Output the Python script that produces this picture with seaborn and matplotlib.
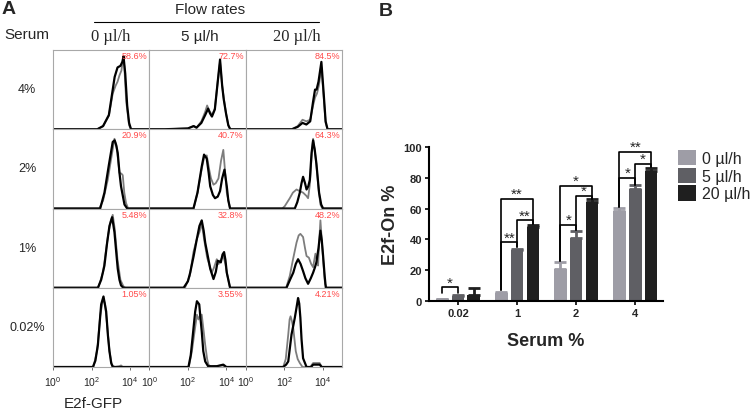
import pandas as pd
import seaborn as sns
import matplotlib.pyplot as plt

# ---- panel B data: E2f-On % per serum level and flow rate ----
SERUM = ['0.02', '1', '2', '4']
FLOWS = ['0 µl/h', '5 µl/h', '20 µl/h']
FLOW_COLORS = ['#9e9da6', '#5f5f64', '#1f1f1f']
MEAN_0 = [1.05, 5.48, 20.9, 58.6]
MEAN_5 = [3.55, 32.8, 40.7, 72.7]
MEAN_20 = [4.21, 48.2, 64.3, 84.5]
ERR_0 = [0.3, 0.5, 4.4, 1.5]
ERR_5 = [0.5, 1.2, 5.0, 2.5]
ERR_20 = [4.0, 1.2, 2.0, 2.0]

# significance brackets: (serum group, bar i, bar j, level, left foot, right foot, label)
BRACKETS = [
    (0, 0, 1, 9.0, 5.5, 5.5, '*'),
    (1, 0, 2, 66.5, 7.0, 50.0, '**'),
    (1, 0, 1, 38.0, 7.0, 35.0, '**'),
    (1, 1, 2, 52.5, 35.0, 50.0, '**'),
    (2, 0, 2, 75.0, 26.0, 66.5, '*'),
    (2, 0, 1, 49.5, 26.0, 46.0, '*'),
    (2, 1, 2, 68.5, 46.0, 66.5, '*'),
    (3, 0, 2, 97.0, 61.0, 87.0, '**'),
    (3, 0, 1, 80.0, 61.0, 75.5, '*'),
    (3, 1, 2, 89.0, 75.5, 87.0, '*'),
]

# ---- panel A data: flow histograms, (log10 GFP, relative count) ----
# serum 4%
H4_0_GRAY = [(0, 0), (2.3, 0), (2.6, 0.04), (2.9, 0.17), (3.1, 0.45), (3.25, 0.55), (3.35, 0.6), (3.45, 0.68),
             (3.55, 0.74), (3.62, 0.86), (3.7, 0.8), (3.8, 0.35), (3.95, 0.05), (4.05, 0), (5, 0)]
H4_0_BLACK = [(0, 0), (2.3, 0), (2.6, 0.04), (2.9, 0.18), (3.1, 0.5), (3.2, 0.66), (3.35, 0.78), (3.5, 0.8),
              (3.6, 0.85), (3.66, 0.92), (3.75, 0.7), (3.85, 0.3), (3.95, 0.08), (4.05, 0), (5, 0)]
H4_1_GRAY = [(0, 0), (0.8, 0), (2.0, 0.01), (2.3, 0.04), (2.45, 0.02), (2.7, 0.1), (2.9, 0.22), (3.0, 0.3),
             (3.1, 0.24), (3.25, 0.18), (3.4, 0.26), (3.55, 0.6), (3.67, 0.85), (3.78, 0.55), (3.86, 0.4),
             (3.98, 0.2), (4.1, 0.05), (4.2, 0), (5, 0)]
H4_1_BLACK = [(0, 0), (0.8, 0), (2.0, 0.01), (2.3, 0.04), (2.45, 0.02), (2.7, 0.08), (2.9, 0.18), (3.05, 0.26),
              (3.15, 0.2), (3.25, 0.16), (3.4, 0.25), (3.55, 0.6), (3.67, 0.88), (3.78, 0.55), (3.86, 0.38),
              (3.98, 0.2), (4.1, 0.05), (4.2, 0), (5, 0)]
H4_2_GRAY = [(0, 0), (2.4, 0), (2.7, 0.04), (2.95, 0.12), (3.15, 0.1), (3.35, 0.12), (3.5, 0.3), (3.6, 0.4),
             (3.7, 0.45), (3.8, 0.55), (3.93, 0.78), (4.05, 0.4), (4.15, 0.08), (4.25, 0), (5, 0)]
H4_2_BLACK = [(0, 0), (2.4, 0), (2.7, 0.03), (2.95, 0.08), (3.15, 0.06), (3.35, 0.1), (3.5, 0.35), (3.6, 0.5),
              (3.68, 0.5), (3.78, 0.6), (3.93, 0.85), (4.05, 0.45), (4.15, 0.1), (4.25, 0), (5, 0)]
# serum 2%
H2_0_GRAY = [(0, 0), (2.4, 0), (2.6, 0.1), (2.84, 0.36), (3.0, 0.6), (3.19, 0.88), (3.3, 0.78), (3.45, 0.45),
             (3.55, 0.44), (3.62, 0.42), (3.7, 0.2), (3.79, 0.07), (3.9, 0), (5, 0)]
H2_0_BLACK = [(0, 0), (2.45, 0), (2.67, 0.2), (2.9, 0.55), (3.1, 0.84), (3.2, 0.86), (3.28, 0.8), (3.36, 0.7),
              (3.45, 0.45), (3.53, 0.28), (3.71, 0.05), (3.85, 0), (5, 0)]
H2_1_GRAY = [(0, 0), (2.3, 0), (2.5, 0.2), (2.72, 0.5), (2.84, 0.64), (2.98, 0.67), (3.1, 0.5), (3.2, 0.38),
             (3.33, 0.3), (3.45, 0.32), (3.59, 0.38), (3.72, 0.6), (3.84, 0.74), (3.92, 0.5), (4.02, 0.2),
             (4.19, 0), (5, 0)]
H2_1_BLACK = [(0, 0), (2.29, 0), (2.5, 0.2), (2.72, 0.53), (2.84, 0.68), (2.98, 0.63), (3.08, 0.45), (3.16, 0.28),
              (3.3, 0.17), (3.41, 0.13), (3.55, 0.15), (3.67, 0.22), (3.78, 0.38), (3.9, 0.49), (4.02, 0.28),
              (4.1, 0.1), (4.19, 0), (5, 0)]
H2_2_GRAY = [(0, 0), (1.9, 0), (2.03, 0.03), (2.29, 0.13), (2.45, 0.2), (2.64, 0.24), (2.8, 0.22), (2.98, 0.2),
             (3.15, 0.16), (3.24, 0.13), (3.33, 0.3), (3.42, 0.65), (3.5, 0.88), (3.6, 0.7), (3.67, 0.55),
             (3.78, 0.25), (3.88, 0.05), (3.98, 0), (5, 0)]
H2_2_BLACK = [(0, 0), (2.55, 0), (2.68, 0.08), (2.81, 0.2), (2.9, 0.32), (2.98, 0.4), (3.08, 0.32), (3.16, 0.24),
              (3.25, 0.28), (3.33, 0.36), (3.42, 0.7), (3.5, 0.86), (3.58, 0.75), (3.67, 0.57), (3.81, 0.2),
              (3.92, 0.05), (4.02, 0), (5, 0)]
# serum 1%
H1_0_GRAY = [(0, 0), (2.35, 0), (2.6, 0.2), (2.85, 0.65), (3.0, 0.85), (3.1, 0.92), (3.2, 0.75), (3.35, 0.35),
             (3.5, 0.1), (3.65, 0.02), (3.75, 0), (5, 0)]
H1_0_BLACK = [(0, 0), (2.33, 0), (2.5, 0.1), (2.67, 0.28), (2.8, 0.55), (2.93, 0.78), (3.07, 0.89), (3.19, 0.7),
              (3.3, 0.4), (3.36, 0.24), (3.45, 0.1), (3.53, 0.03), (3.65, 0), (5, 0)]
H1_1_GRAY = [(0, 0), (1.85, 0), (2.1, 0.15), (2.29, 0.45), (2.47, 0.62), (2.6, 0.7), (2.72, 0.81), (2.85, 0.6),
             (3.0, 0.38), (3.24, 0.19), (3.35, 0.25), (3.5, 0.36), (3.6, 0.3), (3.7, 0.35), (3.84, 0.4),
             (3.95, 0.3), (4.02, 0.19), (4.19, 0), (5, 0)]
H1_1_BLACK = [(0, 0), (1.78, 0), (2.0, 0.08), (2.12, 0.19), (2.3, 0.4), (2.47, 0.62), (2.6, 0.78), (2.72, 0.85),
              (2.82, 0.72), (2.9, 0.57), (3.05, 0.38), (3.16, 0.24), (3.33, 0.11), (3.45, 0.2), (3.55, 0.34),
              (3.65, 0.33), (3.71, 0.32), (3.8, 0.42), (3.88, 0.45), (3.95, 0.35), (4.02, 0.19), (4.19, 0), (5, 0)]
H1_2_GRAY = [(0, 0), (2.1, 0), (2.29, 0.15), (2.45, 0.35), (2.64, 0.57), (2.75, 0.66), (2.84, 0.68), (2.98, 0.64),
             (3.08, 0.5), (3.16, 0.4), (3.28, 0.38), (3.4, 0.3), (3.5, 0.26), (3.62, 0.43), (3.7, 0.35),
             (3.76, 0.28), (3.82, 0.6), (3.88, 0.85), (3.95, 0.6), (4.02, 0.35), (4.12, 0.05), (4.2, 0), (5, 0)]
H1_2_BLACK = [(0, 0), (2.12, 0), (2.3, 0.1), (2.47, 0.19), (2.6, 0.3), (2.72, 0.36), (2.85, 0.3), (2.98, 0.21),
              (3.1, 0.12), (3.24, 0.05), (3.38, 0.12), (3.5, 0.19), (3.6, 0.26), (3.67, 0.32), (3.78, 0.5),
              (3.88, 0.72), (3.95, 0.6), (4.02, 0.4), (4.1, 0.15), (4.16, 0), (5, 0)]
# serum 0.02%
H002_0_GRAY = [(0, 0), (2.1, 0), (2.3, 0.22), (2.45, 0.65), (2.6, 0.86), (2.7, 0.8), (2.8, 0.55), (2.93, 0.2),
               (3.05, 0.03), (3.2, 0), (3.45, 0.01), (3.53, 0.02), (3.62, 0), (5, 0)]
H002_0_BLACK = [(0, 0), (2.07, 0), (2.2, 0.08), (2.33, 0.28), (2.5, 0.79), (2.62, 0.89), (2.76, 0.7), (2.85, 0.4),
                (2.93, 0.2), (3.02, 0.05), (3.1, 0), (5, 0)]
H002_1_GRAY = [(0, 0), (2.05, 0), (2.21, 0.2), (2.35, 0.45), (2.47, 0.66), (2.55, 0.6), (2.65, 0.66), (2.72, 0.66),
               (2.82, 0.45), (2.9, 0.28), (3.0, 0.1), (3.07, 0.03), (3.2, 0), (3.8, 0.02), (3.95, 0), (5, 0)]
H002_1_BLACK = [(0, 0), (2.03, 0), (2.15, 0.15), (2.26, 0.41), (2.38, 0.7), (2.47, 0.83), (2.59, 0.79), (2.66, 0.6),
                (2.72, 0.45), (2.8, 0.2), (2.9, 0.07), (3.05, 0.01), (3.5, 0.01), (3.84, 0.03), (4.0, 0), (5, 0)]
H002_2_GRAY = [(0, 0), (1.95, 0), (2.08, 0.1), (2.21, 0.41), (2.28, 0.6), (2.33, 0.64), (2.4, 0.58), (2.47, 0.49),
               (2.6, 0.2), (2.7, 0.1), (2.81, 0.05), (2.95, 0), (3.35, 0), (3.5, 0.05), (3.84, 0.05), (3.95, 0), (5, 0)]
H002_2_BLACK = [(0, 0), (1.95, 0), (2.1, 0.03), (2.21, 0.07), (2.3, 0.25), (2.38, 0.41), (2.47, 0.52), (2.55, 0.62),
                (2.64, 0.75), (2.72, 0.87), (2.78, 0.8), (2.84, 0.62), (2.9, 0.35), (2.98, 0.11), (3.16, 0), (3.4, 0),
                (3.5, 0.03), (3.84, 0.03), (3.95, 0), (5, 0)]

ROW_LABELS = ['4%', '2%', '1%', '0.02%']
HIST_ROWS = [
    [(H4_0_GRAY, H4_0_BLACK), (H4_1_GRAY, H4_1_BLACK), (H4_2_GRAY, H4_2_BLACK)],
    [(H2_0_GRAY, H2_0_BLACK), (H2_1_GRAY, H2_1_BLACK), (H2_2_GRAY, H2_2_BLACK)],
    [(H1_0_GRAY, H1_0_BLACK), (H1_1_GRAY, H1_1_BLACK), (H1_2_GRAY, H1_2_BLACK)],
    [(H002_0_GRAY, H002_0_BLACK), (H002_1_GRAY, H002_1_BLACK), (H002_2_GRAY, H002_2_BLACK)],
]

sns.set_theme(style='white')
plt.rcParams['font.family'] = ['Liberation Sans', 'DejaVu Sans']
plt.rcParams['mathtext.default'] = 'regular'

W, H = 754, 414
fig = plt.figure(figsize=(W / 100, H / 100), dpi=100)


def fx(x):
    return x / W


def fy(y):
    return 1 - y / H


# ---------------- panel A ----------------
means = [MEAN_0, MEAN_5, MEAN_20]
gs = fig.add_gridspec(4, 3, left=fx(53), right=fx(342), top=fy(51), bottom=fy(368), wspace=0, hspace=0)
for r in range(4):
    serum_idx = 3 - r  # rows go 4%, 2%, 1%, 0.02%
    for c in range(3):
        ax = fig.add_subplot(gs[r, c])
        gray, black = HIST_ROWS[r][c]
        for pts, col, lw in [(gray, '#7d7d7d', 1.3), (black, 'black', 1.6)]:
            d = pd.DataFrame(pts, columns=['logx', 'h'])
            d['x'] = 10 ** d['logx']
            sns.lineplot(data=d, x='x', y='h', ax=ax, color=col, lw=lw, sort=False, estimator=None)
        ax.set_xscale('log')
        ax.set_xlim(1, 1e5)
        ax.set_ylim(0, 1)
        ax.set_xlabel('')
        ax.set_ylabel('')
        ax.set_yticks([])
        for s in ax.spines.values():
            s.set_color('#a8a8a8')
            s.set_linewidth(0.8)
        ax.text(0.98, 0.985, f'{means[c][serum_idx]:.3g}%', transform=ax.transAxes, ha='right', va='top',
                color='#ff4a4a', fontsize=6.5)
        if r == 3:
            ax.set_xticks([1, 1e2, 1e4])
            ax.tick_params(axis='x', which='major', bottom=True, length=2.5, width=0.6, color='#555555',
                           labelsize=7.5, pad=3)
            ax.tick_params(axis='x', which='minor', bottom=True, length=1.5, width=0.5, color='#555555')
        else:
            ax.tick_params(axis='x', which='both', bottom=False, labelbottom=False)
        if c == 0:
            fig.text(fx(27), fy(90 + r * 79.3), ROW_LABELS[r], ha='center', va='center', fontsize=9)

fig.text(fx(9), fy(10), 'A', fontsize=14, fontweight='bold', ha='center', va='center')
fig.text(fx(210), fy(10), 'Flow rates', fontsize=11, ha='center', va='center')
fig.add_artist(plt.Line2D([fx(94), fx(319)], [fy(23), fy(23)], color='black', lw=0.8))
fig.text(fx(27), fy(35), 'Serum', fontsize=11, ha='center', va='center')
fig.text(fx(111), fy(37), '0 µl/h', fontsize=12, ha='center', va='center', family='Liberation Serif')
fig.text(fx(200), fy(37), '5 µl/h', fontsize=11, ha='center', va='center')
fig.text(fx(297), fy(37), '20 µl/h', fontsize=12, ha='center', va='center', family='Liberation Serif')
fig.text(fx(93), fy(404), 'E2f-GFP', fontsize=11, ha='center', va='center')

# ---------------- panel B ----------------
fig.text(fx(386), fy(12), 'B', fontsize=14, fontweight='bold', ha='center', va='center')
axb = fig.add_axes([fx(429), fy(302), fx(663) - fx(429), fy(148) - fy(302)])
rows = []
for f, m in zip(FLOWS, means):
    for s, v in zip(SERUM, m):
        rows.append({'serum': s, 'flow': f, 'value': v})
dfb = pd.DataFrame(rows)
sns.barplot(data=dfb, x='serum', y='value', hue='flow', order=SERUM, hue_order=FLOWS, palette=FLOW_COLORS,
            errorbar=None, width=0.8, gap=0.2, saturation=1, linewidth=0, ax=axb)

centers = [[b.get_x() + b.get_width() / 2 for b in cont] for cont in axb.containers]
for hi, (cont, errs) in enumerate(zip(list(axb.containers), [ERR_0, ERR_5, ERR_20])):
    for gi, bar in enumerate(cont):
        axb.errorbar(centers[hi][gi], bar.get_height(), yerr=[[0], [errs[gi]]], color=FLOW_COLORS[hi],
                     elinewidth=2, capsize=4, capthick=2)

for g, i, j, lvl, lf, rf, lab in BRACKETS:
    x1, x2 = centers[i][g], centers[j][g]
    axb.plot([x1, x1, x2, x2], [lf, lvl, lvl, rf], color='black', lw=1.2, clip_on=False)
    axb.text((x1 + x2) / 2, lvl - 1.5, lab, ha='center', va='bottom', fontsize=11, clip_on=False)

axb.set_xlim(-0.49, 3.47)
axb.set_ylim(0, 100)
axb.set_yticks([0, 20, 40, 60, 80, 100])
axb.set_xlabel('Serum %', fontsize=13, fontweight='bold', labelpad=10)
axb.set_ylabel('E2f-On %', fontsize=13, fontweight='bold', labelpad=3)
for lbl in axb.get_xticklabels() + axb.get_yticklabels():
    lbl.set_fontweight('bold')
axb.tick_params(axis='both', labelsize=8, length=3, width=1.2, color='black', pad=2)
axb.tick_params(axis='x', bottom=True)
axb.tick_params(axis='y', left=True)
sns.despine(ax=axb)
for s in ['left', 'bottom']:
    axb.spines[s].set_color('black')
    axb.spines[s].set_linewidth(1.5)

handles, labels = axb.get_legend_handles_labels()
axb.legend(handles, labels, loc='upper left', bbox_to_anchor=(fx(678), fy(151)), bbox_transform=fig.transFigure,
           frameon=False, fontsize=11.5, handlelength=1.1, handleheight=1.1, handletextpad=0.4,
           labelspacing=0.1, borderpad=0, borderaxespad=0)

fig.savefig('out.png', dpi=100)
